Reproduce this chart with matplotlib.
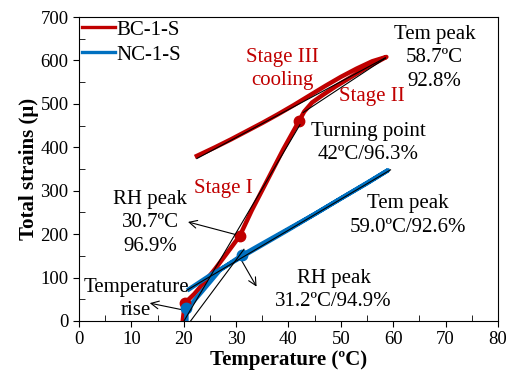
import matplotlib.pyplot as plt
import numpy as np

plt.rcParams.update({
    'font.family': 'Liberation Serif',
    'font.size': 13,
    'xtick.direction': 'out',
    'ytick.direction': 'out',
})

RED = '#C00000'
BLUE = '#0070C0'

# BC-1-S: heating (stage I -> turning point -> stage II -> peak) then cooling
bc_temp = [19.8, 20.2, 22.0, 24.0, 26.0, 28.0, 30.7, 33.0, 36.0, 39.0, 42.0,
           43.0, 44.5, 46.5, 49.0, 52.0, 55.0, 57.0, 58.7,
           56.0, 53.0, 50.0, 47.0, 44.0, 41.0, 38.0, 35.0, 32.0, 29.0, 26.0, 22.5]
bc_strain = [0, 41, 62, 90, 120, 152, 196, 255, 325, 395, 460,
             482, 503, 520, 540, 562, 584, 597, 608,
             598, 581, 562, 541, 519, 497, 476, 456, 437, 418, 400, 380]

# NC-1-S: heating then cooling
nc_temp = [20.5, 20.5, 21.5, 23.7, 26.9, 31.2, 35.0, 40.0, 45.0, 50.0, 55.0, 59.0,
           55.0, 50.0, 45.0, 40.0, 35.0, 30.0, 25.0, 21.0]
nc_strain = [0, 29, 40, 71, 117, 152, 178, 212, 246, 282, 317, 347,
             318, 282, 246, 210, 175, 140, 105, 73]

# key points (markers)
bc_key_temp = [20.2, 30.7, 42.0]
bc_key_strain = [41, 196, 460]
nc_key_temp = [20.5, 31.2]
nc_key_strain = [29, 152]

# linear fits per stage: (x0, y0, x1, y1)
fit_lines = [
    (19.8, -5, 42.2, 452),
    (42.8, 480, 58.5, 605),
    (22.5, 374, 58.5, 606),
    (21.0, -5, 31.5, 165),
    (20.5, 70, 59.5, 348),
]

fig = plt.figure(figsize=(5.07, 3.78), dpi=100)
ax = fig.add_axes([0.156, 0.151, 0.826, 0.804])

ax.plot(bc_temp, bc_strain, color=RED, lw=3.2, label='BC-1-S', zorder=3,
        solid_joinstyle='round')
ax.plot(nc_temp, nc_strain, color=BLUE, lw=3.2, label='NC-1-S', zorder=3,
        solid_joinstyle='round')
ax.plot(bc_key_temp, bc_key_strain, 'o', color=RED, ms=7.5, zorder=4)
ax.plot(nc_key_temp, nc_key_strain, 'o', color=BLUE, ms=7.5, zorder=4)

for x0, y0, x1, y1 in fit_lines:
    ax.plot([x0, x1], [y0, y1], color='black', lw=0.8, zorder=5)

ax.set_xlim(0, 80)
ax.set_ylim(0, 700)
ax.set_xticks(np.arange(0, 81, 10))
ax.set_yticks(np.arange(0, 701, 100))
ax.set_xticks(np.arange(5, 80, 10), minor=True)
ax.set_yticks(np.arange(50, 700, 100), minor=True)
ax.tick_params(which='major', length=4, labelsize=13.5)
ax.tick_params(which='minor', direction='in', length=4)
ax.set_xlabel('Temperature (ºC)', fontsize=15, fontweight='bold', labelpad=1)
ax.set_ylabel('Total strains (μ)', fontsize=15, fontweight='bold', labelpad=1)

leg = ax.legend(loc='upper left', frameon=False, fontsize=15, handlelength=1.55,
                handletextpad=0.1, borderaxespad=0.05, borderpad=0.1,
                labelspacing=0.25)
for line in leg.get_lines():
    line.set_linewidth(2.4)

fs = 15
ls = 1.3
ax.text(67.9, 606, 'Tem peak\n58.7ºC\n92.8%', ha='center', va='center', fontsize=fs,
        linespacing=ls)
ax.text(55.2, 410, 'Turning point\n42ºC/96.3%', ha='center', va='center', fontsize=fs,
        linespacing=ls)
ax.text(62.8, 243, 'Tem peak\n59.0ºC/92.6%', ha='center', va='center', fontsize=fs,
        linespacing=ls)
ax.text(48.6, 72, 'RH peak\n31.2ºC/94.9%', ha='center', va='center', fontsize=fs,
        linespacing=ls)
ax.text(38.9, 581, 'Stage III\ncooling', ha='center', va='center', fontsize=fs,
        color=RED, linespacing=ls)
ax.text(56.0, 516, 'Stage II', ha='center', va='center', fontsize=fs, color=RED)
ax.text(27.5, 306, 'Stage I', ha='center', va='center', fontsize=fs, color=RED)

ax.text(13.6, 226, 'RH peak\n30.7ºC\n96.9%', ha='center', va='center', fontsize=fs,
        linespacing=ls)
ax.annotate('', xy=(20.8, 228), xytext=(30.2, 198),
            arrowprops=dict(arrowstyle='->', color='black', lw=0.8,
                            shrinkA=0, shrinkB=0, mutation_scale=14))
ax.text(10.9, 50, 'Temperature\nrise', ha='center', va='center', fontsize=fs,
        linespacing=ls, zorder=6)
ax.annotate('', xy=(13.5, 41), xytext=(21.2, 22),
            arrowprops=dict(arrowstyle='->', color='black', lw=0.8,
                            shrinkA=0, shrinkB=0, mutation_scale=14))
ax.annotate('', xy=(33.9, 79), xytext=(31.0, 140),
            arrowprops=dict(arrowstyle='->', color='black', lw=0.8,
                            shrinkA=0, shrinkB=0, mutation_scale=14))

fig.savefig('out.png', dpi=100)
